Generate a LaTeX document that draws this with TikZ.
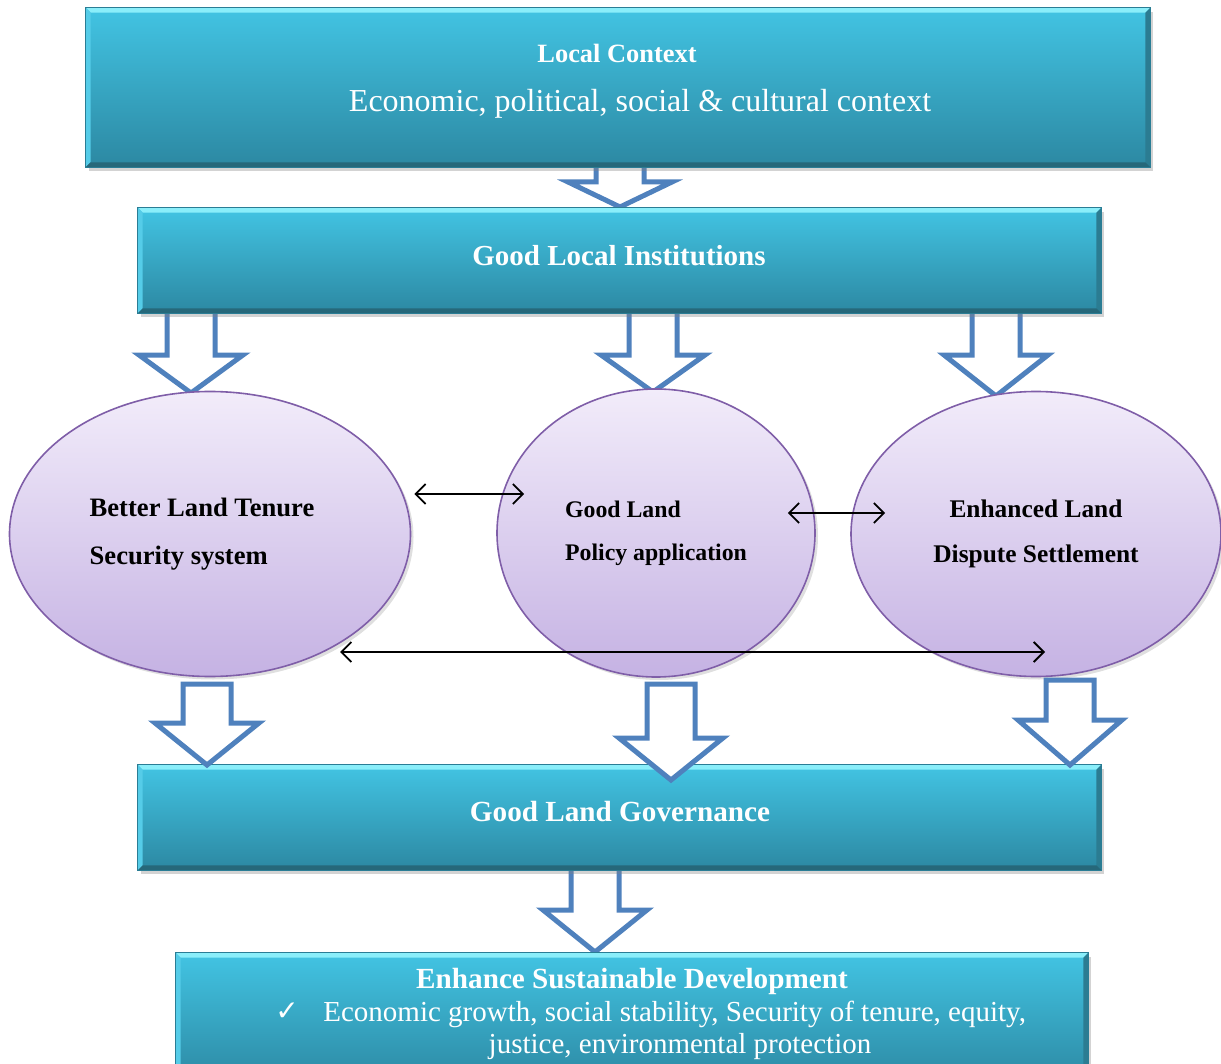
\documentclass[tikz,border=0pt]{standalone}
\usepackage{fontspec}
\setmainfont{Liberation Serif}
\newfontfamily\symfont{DejaVu Sans}
\usetikzlibrary{shapes, arrows.meta, shadows}

\definecolor{boxtop}{HTML}{42C4E3}
\definecolor{boxbot}{HTML}{2C88A2}
\definecolor{boxedge}{HTML}{2A7D95}
\definecolor{bevlight}{HTML}{8AEEFA}
\definecolor{bevleft}{HTML}{55CCE8}
\definecolor{bevdark}{HTML}{26687A}
\definecolor{bevright}{HTML}{2B7C92}
\definecolor{elltop}{HTML}{F2ECFA}
\definecolor{ellbot}{HTML}{C5B2E3}
\definecolor{elledge}{HTML}{7F5EA8}
\definecolor{arrblue}{HTML}{4F81BD}

\begin{document}
\begin{tikzpicture}
  [
  x=0.5pt, y=-0.5pt,
  % box
  box/.style = {rectangle,
    draw=boxedge, thin,
    top color=boxtop, bottom color=boxbot,
    inner sep=0pt, text=white,
    font=\bfseries\fontsize{14.5}{17}\selectfont,
    drop shadow={opacity=0.35, shadow xshift=1.5pt, shadow yshift=-2pt}},
  % bulat
  bulat/.style = {ellipse,
    draw=elledge, line width=0.8pt,
    top color=elltop, bottom color=ellbot,
    inner sep=0pt,
    drop shadow={opacity=0.25, shadow xshift=1.5pt, shadow yshift=-1.5pt}},
  % block arrow
  blockarrow/.style = {draw=arrblue, line width=2.5pt, fill=white, line join=miter},
  % line
  link/.style = {draw, <->, >={Straight Barb[length=5pt,width=10pt]}, line width=0.9pt},
  % label
  label/.style = {text=white, inner sep=0pt},
  ]

  \useasboundingbox (0,0) rectangle (1221,1064);
  \clip (0,0) rectangle (1221,1064);

  % block arrows from the boxes
  \foreach \x/\t/\h/\p in {620/160/182/207, 191/305/355/393, 653/305/355/392,
      996/305/355/396, 595/862/910/952}
    \draw [blockarrow] (\x-24,\t) -- (\x-24,\h) -- (\x-52,\h) -- (\x,\p)
      -- (\x+52,\h) -- (\x+24,\h) -- (\x+24,\t) -- cycle;

  % boxes
  \node [box, minimum width=532pt, minimum height=79.5pt] (ctx) at (618,87.5) {};
  \node [box, minimum width=481.5pt, minimum height=52.5pt] (inst) at (619.5,260.5) {};
  \node [box, minimum width=481.5pt, minimum height=52.5pt] (gov) at (619.5,817.5) {};
  \node [box, minimum width=456pt, minimum height=66pt] (dev) at (632,1019) {};

  % bevel edges
  \foreach \b in {ctx, inst, gov, dev} {
    \fill [bevlight] (\b.north west) -- (\b.north east)
      -- ([shift={(-5,5)}]\b.north east) -- ([shift={(5,5)}]\b.north west) -- cycle;
    \fill [bevleft] (\b.north west) -- ([shift={(5,5)}]\b.north west)
      -- ([shift={(5,-5)}]\b.south west) -- (\b.south west) -- cycle;
    \fill [bevright] (\b.north east) -- ([shift={(-5,5)}]\b.north east)
      -- ([shift={(-5,-5)}]\b.south east) -- (\b.south east) -- cycle;
    \fill [bevdark] (\b.south west) -- (\b.south east)
      -- ([shift={(-5,-5)}]\b.south east) -- ([shift={(5,-5)}]\b.south west) -- cycle;
    \draw [boxedge, thin] (\b.north west) rectangle (\b.south east);
  }

  % box texts
  \node [label, font=\bfseries\fontsize{13.2}{16}\selectfont] (ctxhead) at (617,53) {Local Context};
  \node [label, font=\fontsize{16}{19}\selectfont] (ctxtext) at (640,104)
    {Economic, political, social \& cultural context};
  \node [label, font=\bfseries\fontsize{14.5}{17}\selectfont] (insthead) at (619,256)
    {Good Local Institutions};
  \node [label, font=\bfseries\fontsize{14.6}{17}\selectfont] (govhead) at (620,812)
    {Good Land Governance};
  \node [label, font=\bfseries\fontsize{14.6}{17}\selectfont] (devhead) at (632,981)
    {Enhance Sustainable Development};
  \node [label, font=\symfont\fontsize{14}{16}\selectfont] (tick) at (287,1012) {✓};
  \node [label, anchor=west, font=\fontsize{14.5}{17}\selectfont] (devtext) at (323,1014)
    {Economic growth, social stability, Security of tenure, equity,};
  \node [label, font=\fontsize{14.5}{17}\selectfont] (devmore) at (680,1047)
    {justice, environmental protection};

  % ellipses
  \node [bulat, minimum width=200.5pt, minimum height=142.5pt, align=left,
    font=\bfseries\fontsize{13.3}{24}\selectfont] (tenure) at (210,534)
    {Better Land Tenure\hspace*{8pt}\\Security system};
  \node [bulat, minimum width=159pt, minimum height=144pt, align=left,
    font=\bfseries\fontsize{11.9}{21.5}\selectfont] (policy) at (656,533)
    {Good Land\\Policy application};
  \node [bulat, minimum width=185pt, minimum height=142.5pt, align=center,
    font=\bfseries\fontsize{12.7}{22.5}\selectfont] (dispute) at (1036,534)
    {Enhanced Land\\Dispute Settlement};

  % block arrows into the governance box
  \foreach \x/\t/\h/\p in {207/684/723/765, 671/684/738/780, 1070/680/720/765}
    \draw [blockarrow] (\x-24,\t) -- (\x-24,\h) -- (\x-52,\h) -- (\x,\p)
      -- (\x+52,\h) -- (\x+24,\h) -- (\x+24,\t) -- cycle;

  % links
  \path [link] ([shift={(3,-40)}]tenure.east) -- ([shift={(28,-39)}]policy.west);
  \path [link] ([shift={(-28,-20)}]policy.east) -- ([shift={(35,-21)}]dispute.west);
  \path [link] ([shift={(130,118)}]tenure.center) -- ([shift={(9,118)}]dispute.center);

\end{tikzpicture}
\end{document}
